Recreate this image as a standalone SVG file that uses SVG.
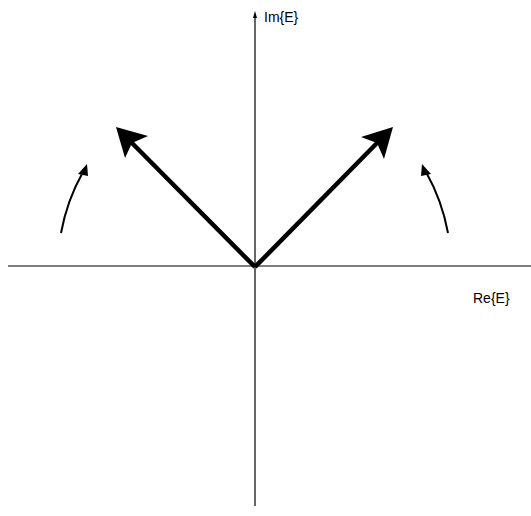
<svg xmlns="http://www.w3.org/2000/svg" width="531" height="516" viewBox="0 0 531 516">
<style>
.axis{stroke:#000;stroke-width:1.2;fill:none}
.vec{stroke:#000;stroke-width:4.5;fill:none}
.rot{stroke:#000;stroke-width:2;fill:none}
.head{fill:#000}
.lbl{font-family:"Liberation Sans",Arial,sans-serif;font-size:14px;fill:#000}
</style>
<rect width="531" height="516" fill="#fff"/>
<g id="axes">
<line class="axis" x1="8" y1="266" x2="531" y2="266"/>
<line class="axis" x1="255" y1="14" x2="255" y2="506"/>
<polygon class="head" points="255,11 253,18 257,18"/>
</g>
<g id="labels">
<text class="lbl" x="264" y="22">Im{E}</text>
<text class="lbl" x="473" y="303">Re{E}</text>
</g>
<g id="connectors">
<line class="vec" x1="255" y1="267" x2="131" y2="142"/>
<polygon class="head" points="116,127 148,136 132,143 125,158"/>
<line class="vec" x1="255" y1="267" x2="378" y2="142"/>
<polygon class="head" points="393,127 361,137 377,143 384,159"/>
<path class="rot" d="M61,233 A196,196 0 0 1 83,172"/>
<polygon class="head" points="87,164 78,174 88,176"/>
<path class="rot" d="M448,233 A196,196 0 0 0 426,172"/>
<polygon class="head" points="422,164 431,174 421,176"/>
</g>
</svg>
